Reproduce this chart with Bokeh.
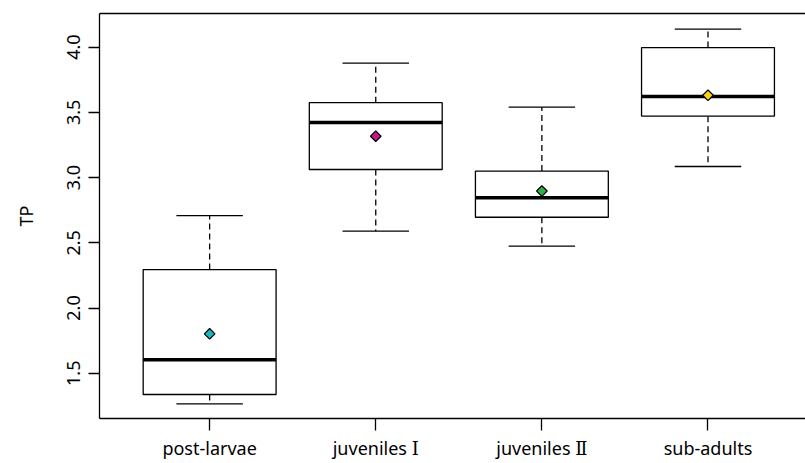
import math
from bokeh.plotting import figure
from bokeh.models import Range1d, FixedTicker, LinearAxis, ColumnDataSource
from bokeh.embed import file_html
from bokeh.resources import INLINE

groups = ["post-larvae", "juveniles \u2160", "juveniles \u2161", "sub-adults"]
positions = [1, 2, 3, 4]
lower = [1.265, 2.589, 2.474, 3.085]
q1 = [1.337, 3.062, 2.696, 3.471]
median = [1.603, 3.423, 2.845, 3.621]
q3 = [2.295, 3.574, 3.050, 3.997]
upper = [2.709, 3.877, 3.540, 4.138]
means = [1.802, 3.317, 2.897, 3.631]
mean_colors = ["#1fb5bf", "#c8168c", "#2eb34b", "#f8d118"]
y_ticks = [1.5, 2.0, 2.5, 3.0, 3.5, 4.0]

FONT = "'Noto Sans', 'DejaVu Serif', 'Noto Sans CJK SC', sans-serif"

p = figure(width=805, height=463, output_backend="svg", toolbar_location=None,
           x_range=Range1d(0.337, 4.587), y_range=Range1d(1.153, 4.258),
           x_axis_location=None, y_axis_location=None,
           min_border_left=99, min_border_right=0, min_border_top=13, min_border_bottom=45)
p.grid.visible = False
p.outline_line_color = None
p.background_fill_color = "white"
p.border_fill_color = "white"

# axes
yax = LinearAxis(ticker=FixedTicker(ticks=y_ticks), axis_label="TP")
yax.major_label_overrides = {t: f"{t:.1f}" for t in y_ticks}
xax = LinearAxis(ticker=FixedTicker(ticks=positions))
xax.major_label_overrides = {pos: g for pos, g in zip(positions, groups)}
for ax in (yax, xax):
    ax.axis_line_color = "black"
    ax.axis_line_width = 1.3
    ax.major_tick_line_color = "black"
    ax.major_tick_line_width = 1.3
    ax.major_tick_in = 0
    ax.minor_tick_line_color = None
    ax.major_label_text_font = FONT
    ax.major_label_text_font_size = "18px"
    ax.major_label_text_color = "black"
    ax.axis_label_text_font = FONT
    ax.axis_label_text_font_size = "18px"
    ax.axis_label_text_font_style = "normal"
    ax.axis_label_text_color = "black"
yax.major_tick_out = 11
yax.major_label_standoff = 8
yax.major_label_orientation = "vertical"
yax.axis_label_standoff = 27
xax.major_tick_out = 12
xax.major_label_standoff = 5
p.add_layout(yax, "left")
p.add_layout(xax, "below")

top = LinearAxis(ticker=FixedTicker(ticks=[]))
top.axis_line_color = "black"
top.axis_line_width = 1.3
top.major_tick_line_color = None
top.minor_tick_line_color = None
top.major_label_text_font_size = "0px"
p.add_layout(top, "above")

src = ColumnDataSource(dict(
    x=positions,
    left=[x - 0.4 for x in positions], right=[x + 0.4 for x in positions],
    cl=[x - 0.2 for x in positions], cr=[x + 0.2 for x in positions],
    lower=lower, q1=q1, median=median, q3=q3, upper=upper,
    mean=means, color=mean_colors,
))

# whiskers
p.segment(x0="x", y0="q3", x1="x", y1="upper", source=src, line_color="black",
          line_width=1.3, line_dash="6 4")
p.segment(x0="x", y0="q1", x1="x", y1="lower", source=src, line_color="black",
          line_width=1.3, line_dash="6 4")
# caps
p.segment(x0="cl", y0="upper", x1="cr", y1="upper", source=src, line_color="black", line_width=1.3)
p.segment(x0="cl", y0="lower", x1="cr", y1="lower", source=src, line_color="black", line_width=1.3)
# boxes
p.quad(left="left", right="right", bottom="q1", top="q3", source=src,
       fill_color="white", line_color="black", line_width=1.3)
# medians
p.segment(x0="left", y0="median", x1="right", y1="median", source=src,
          line_color="black", line_width=3.5)
# means
p.scatter(x="x", y="mean", source=src, marker="square", angle=math.pi / 4, size=7.5,
          fill_color="color", line_color="black", line_width=1.2)

open("out.html", "w").write(file_html(p, INLINE))
